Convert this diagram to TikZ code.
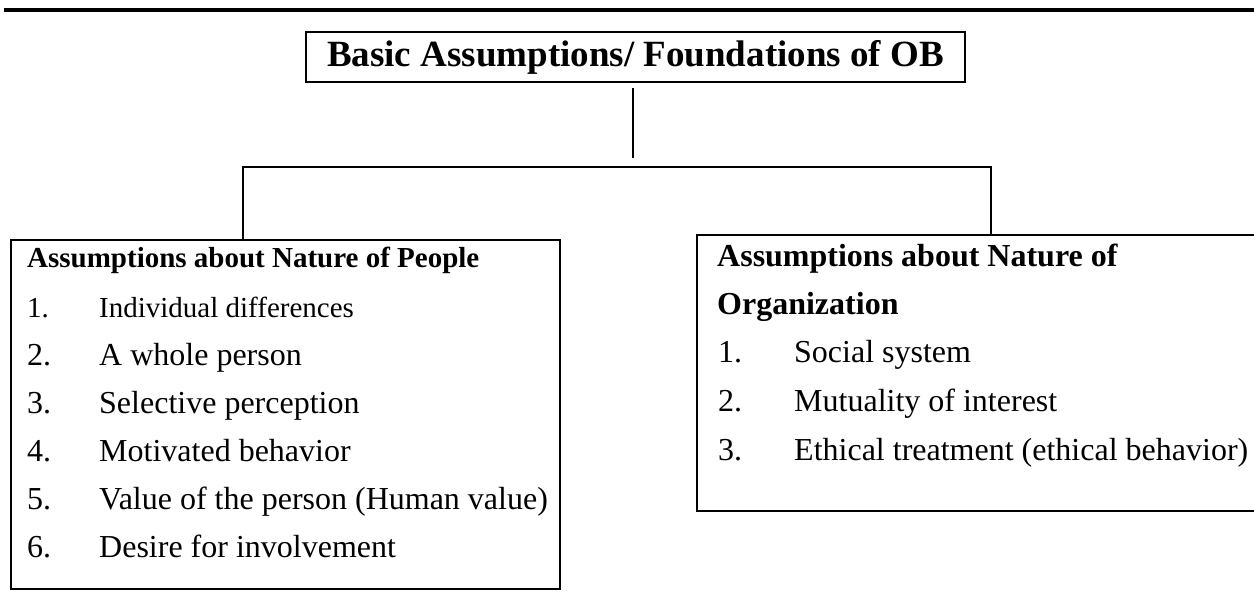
\documentclass[tikz,border=0pt]{standalone}
\usepackage{fontspec}
\setmainfont{Liberation Serif}
\begin{document}
\begin{tikzpicture}[x=1pt,y=-1pt,
  boxstyle/.style={draw=black,line width=2.4pt,rectangle,inner sep=0pt,fill=none},
  conn/.style={draw=black,line width=2pt},
  txt/.style={anchor=base west,inner sep=0pt,font=\fontsize{32}{38}\selectfont},
  head/.style={anchor=base west,inner sep=0pt,font=\fontsize{32}{38}\selectfont\bfseries}]
\useasboundingbox (0,0) rectangle (1254,608);
\fill[white] (0,0) rectangle (1254,608);
% top rule
\coordinate (ruleL) at (4,10);
\coordinate (ruleR) at (1254,10);
\draw[line width=3.5pt] (ruleL) -- (ruleR);
% title
\node[boxstyle,minimum width=659pt,minimum height=50pt,font=\fontsize{37}{44}\selectfont\bfseries] (title) at (635.5,57) {Basic Assumptions/ Foundations of OB};
% boxes
\node[boxstyle,minimum width=549pt,minimum height=349pt,anchor=north west] (people) at (10,239) {};
\node[boxstyle,minimum width=564pt,minimum height=276pt,anchor=north west] (org) at (696,234) {};
% connectors
\coordinate (tstart) at (633,88);
\coordinate (tend) at (633,158);
\coordinate (lb) at (243,167);
\coordinate (rb) at (991,167);
\draw[conn] (tstart) -- (tend);
\draw[conn] (lb |- people.north) -- (lb) -- (rb) -- (rb |- org.north);
% left box text
\node[head,font=\fontsize{29}{34}\selectfont\bfseries] (ph) at (27,267) {Assumptions about Nature of People};
\node[txt,font=\fontsize{29}{34}\selectfont] (pn1) at (27,317) {1.};
\node[txt,font=\fontsize{29}{34}\selectfont] (pt1) at (99,317) {Individual differences};
\node[txt] (pn2) at (27,365) {2.};
\node[txt] (pt2) at (99,365) {A whole person};
\node[txt] (pn3) at (27,413) {3.};
\node[txt] (pt3) at (99,413) {Selective perception};
\node[txt] (pn4) at (27,461) {4.};
\node[txt] (pt4) at (99,461) {Motivated behavior};
\node[txt] (pn5) at (27,509) {5.};
\node[txt] (pt5) at (99,509) {Value of the person (Human value)};
\node[txt] (pn6) at (27,557) {6.};
\node[txt] (pt6) at (99,557) {Desire for involvement};
% right box text
\node[head] (oh1) at (717,266) {Assumptions about Nature of};
\node[head] (oh2) at (717,314) {Organization};
\node[txt] (on1) at (718,362) {1.};
\node[txt] (ot1) at (794,362) {Social system};
\node[txt] (on2) at (718,411) {2.};
\node[txt] (ot2) at (794,411) {Mutuality of interest};
\node[txt] (on3) at (718,460) {3.};
\node[txt] (ot3) at (794,460) {Ethical treatment (ethical behavior)};
\end{tikzpicture}
\end{document}
